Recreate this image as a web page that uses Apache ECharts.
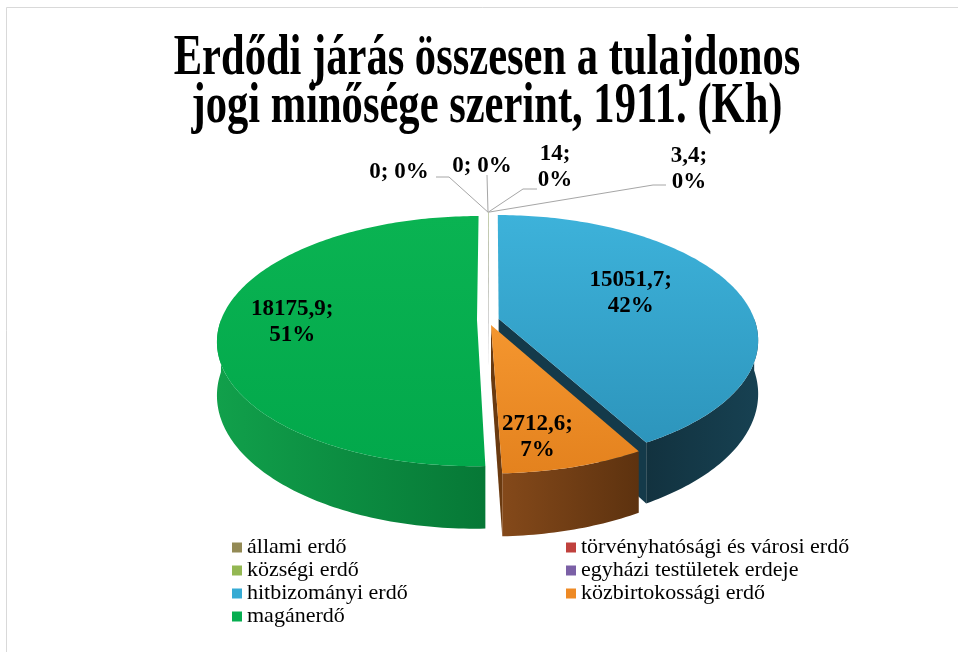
<!DOCTYPE html>
<html>
<head>
<meta charset="utf-8">
<script src="https://cdn.jsdelivr.net/npm/echarts@6/dist/echarts.min.js"></script>
<style>
    html, body { margin: 0; padding: 0; background: #fff; }
    #chart { width: 958px; height: 652px; }
</style>
</head>
<body>
<div id="chart"></div>
<script>
    // Chart data
    const titleLines = ['Erdődi járás összesen a tulajdonos', 'jogi minősége szerint, 1911. (Kh)'];
    const categories = [
        'állami erdő',
        'törvényhatósági és városi erdő',
        'községi erdő',
        'egyházi testületek erdeje',
        'hitbizományi erdő',
        'közbirtokossági erdő',
        'magánerdő'
    ];
    const values = [0, 0, 14, 3.4, 15051.7, 2712.6, 18175.9];

    // Colours: legend / top face / side wall
    const sliceColors = ['#938a55', '#c0413d', '#93b752', '#7b60a6', '#36abd4', '#ee8a25', '#06ae50'];
    const topShades = [
        ['#a19860', '#8a8150'], ['#c9605c', '#b44744'], ['#a7c46a', '#8fae4e'], ['#8c72ad', '#735996'],
        ['#3db2da', '#2d95bc'], ['#f4962f', '#e4821e'], ['#0ab352', '#02a84b']
    ];
    const wallShades = [
        ['#5e5733', '#4e482a'], ['#7a2e2c', '#652624'], ['#5f7a32', '#4f6829'], ['#4d3b66', '#3f3054'],
        ['#12323f', '#174152'], ['#84491a', '#5d320f'], ['#11a04b', '#067836']
    ];
    const faceColors = ['#a3a3a3', '#a3a3a3', '#a3a3a3', '#a3a3a3', '#143a4a', '#6a3a10', '#077c38'];

    // Geometry of the tilted, exploded pie (perspective projection)
    const pie = { cx: 488, cy: 320, rx: 256, ry: 121.5, persp: 0.168, depth: 52, explode: 0.043 };

    // Label placement: callouts for the tiny slices, inside labels for the big ones
    const labelLayout = [
        { x: 399, y: 172, wrap: false, path: [[449, 177], [436, 177]] },
        { x: 482, y: 166, wrap: false, path: [[487, 175]] },
        { x: 555, y: 167, wrap: true, path: [[523, 189], [537, 189]] },
        { x: 689, y: 169, wrap: true, path: [[653, 185], [666, 185]] },
        { r: 0.58, da: -7.6, wrap: true },
        { r: 0.8, da: 4.4, wrap: true },
        { r: 0.72, da: 0, wrap: true }
    ];

    const total = values.reduce((s, v) => s + v, 0);

    // Slice angles, clockwise from 12 o'clock
    const angles = [];
    let acc = 0;
    values.forEach((v) => {
        const a1 = acc / total * 2 * Math.PI;
        acc += v;
        angles.push([a1, acc / total * 2 * Math.PI]);
    });

    // Whole percentages, largest remainder so they add up to 100
    const percents = (() => {
        const raw = values.map(v => v / total * 100);
        const res = raw.map(r => Math.floor(r));
        const left = 100 - res.reduce((s, v) => s + v, 0);
        const order = raw.map((r, i) => i).sort((a, b) => (raw[b] - res[b]) - (raw[a] - res[a]));
        for (let k = 0; k < left; k++) {
            res[order[k]]++;
        }
        return res;
    })();

    const project = (u, v, down) => {
        const w = 1 - pie.persp * v;
        return [pie.cx + pie.rx * u / w, pie.cy + (pie.ry * v + (down || 0)) / w];
    };
    const rimPoint = (a, off, down, r) => {
        const k = r === undefined ? 1 : r;
        return project(k * Math.sin(a) + off[0], -k * Math.cos(a) + off[1], down);
    };
    const arc = (a1, a2, off, down) => {
        const n = Math.max(1, Math.ceil(Math.abs(a2 - a1) / (Math.PI / 180)));
        const pts = [];
        for (let k = 0; k <= n; k++) {
            pts.push(rimPoint(a1 + (a2 - a1) * k / n, off, down));
        }
        return pts;
    };

    const formatValue = (v) => String(v).replace('.', ',');
    const labelFont = 'bold 23px "Liberation Serif"';

    // Draws one slice: cut faces, outer wall, top face and its label
    const renderSlice = (params) => {
        const i = params.seriesIndex;
        const [a1, a2] = angles[i];
        const mid = (a1 + a2) / 2;
        const off = [pie.explode * Math.sin(mid), -pie.explode * Math.cos(mid)];
        const center = project(off[0], off[1], 0);
        const centerDown = project(off[0], off[1], pie.depth);
        const children = [];

        // cut faces turned towards the viewer
        const face = (a) => ({
            type: 'polygon',
            shape: { points: [center, rimPoint(a, off, 0), rimPoint(a, off, pie.depth), centerDown] },
            style: { fill: faceColors[i] }
        });
        if (Math.sin(a2) > 1e-6) children.push(face(a2));
        if (Math.sin(a1) < -1e-6) children.push(face(a1));

        // outer wall on the front half
        const b1 = Math.max(a1, Math.PI / 2);
        const b2 = Math.min(a2, Math.PI * 1.5);
        if (b2 > b1) {
            children.push({
                type: 'polygon',
                shape: { points: arc(b1, b2, off, 0).concat(arc(b2, b1, off, pie.depth)) },
                style: {
                    fill: new echarts.graphic.LinearGradient(0, 0, 1, 0, [
                        { offset: 0, color: wallShades[i][0] },
                        { offset: 1, color: wallShades[i][1] }
                    ])
                }
            });
        }

        // top face
        children.push({
            type: 'polygon',
            shape: { points: [center].concat(arc(a1, a2, off, 0)) },
            style: {
                fill: new echarts.graphic.LinearGradient(0, 0, 0, 1, [
                    { offset: 0, color: topShades[i][0] },
                    { offset: 1, color: topShades[i][1] }
                ])
            }
        });

        // label
        const lay = labelLayout[i];
        const text = formatValue(values[i]) + ';' + (lay.wrap ? '\n' : ' ') + percents[i] + '%';
        let pos;
        if (lay.path) {
            const start = rimPoint(mid, off, 0);
            children.push({
                type: 'polyline',
                shape: { points: [start].concat(lay.path) },
                style: { stroke: '#a6a6a6', lineWidth: 1, fill: null }
            });
            pos = [lay.x, lay.y];
        } else {
            pos = rimPoint(mid + lay.da * Math.PI / 180, off, 0, lay.r);
        }
        children.push({
            type: 'text',
            x: pos[0],
            y: pos[1],
            z2: 10,
            style: {
                text: text,
                fill: '#000',
                font: labelFont,
                align: 'center',
                verticalAlign: 'middle',
                lineHeight: 26
            }
        });

        return { type: 'group', children: children };
    };

    const chart = echarts.init(document.getElementById('chart'));

    chart.setOption({
        animation: false,
        backgroundColor: '#fff',
        graphic: [
            {
                type: 'rect',
                silent: true,
                shape: { x: 6.5, y: 7.5, width: 980, height: 680 },
                style: { fill: null, stroke: '#d9d9d9', lineWidth: 1 }
            },
            ...titleLines.map((line, k) => ({
                type: 'text',
                x: 487,
                y: 60 + k * 48,
                scaleX: 0.76,
                style: {
                    text: line,
                    fill: '#000',
                    font: 'bold 56px "Liberation Serif"',
                    align: 'center',
                    verticalAlign: 'middle'
                }
            }))
        ],
        legend: {
            data: categories,
            left: 232,
            top: 536,
            width: 700,
            padding: 0,
            itemGap: 0,
            itemWidth: 10,
            itemHeight: 10,
            icon: 'rect',
            textStyle: {
                fontFamily: '"Liberation Serif", serif',
                fontSize: 22,
                color: '#000',
                width: 319,
                lineHeight: 23
            }
        },
        series: categories.map((name, i) => {
            const mid = (angles[i][0] + angles[i][1]) / 2;
            return {
                type: 'custom',
                name: name,
                coordinateSystem: 'none',
                silent: true,
                z: 2 + (1 - Math.cos(mid)),
                itemStyle: { color: sliceColors[i] },
                data: [values[i]],
                renderItem: renderSlice
            };
        })
    });
</script>
</body>
</html>
